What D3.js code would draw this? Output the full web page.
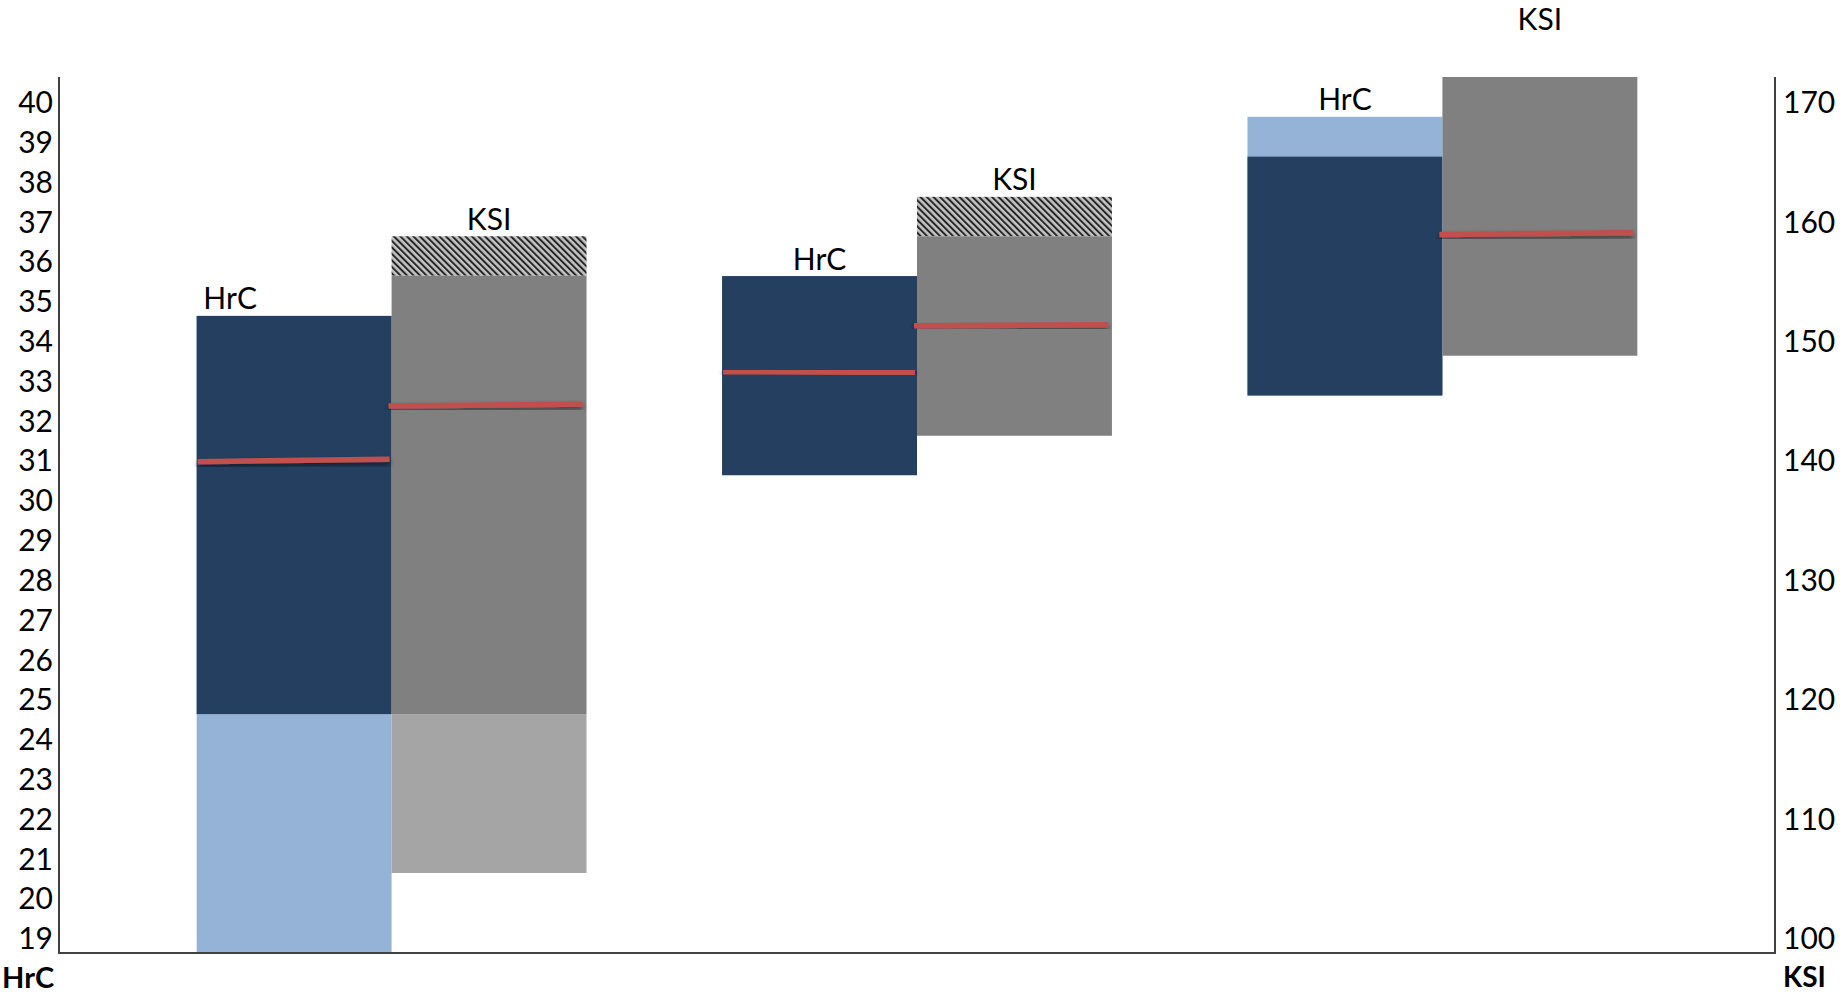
<!DOCTYPE html>
<html>
<head>
<meta charset="utf-8">
<script src="https://cdn.jsdelivr.net/npm/d3@7"></script>
<style>
  html, body { margin: 0; padding: 0; background: #ffffff; overflow: hidden; }
  text { font-family: Lato, "Open Sans", "Liberation Sans", sans-serif; fill: #000; }
</style>
</head>
<body>
<svg id="chart" width="1847" height="995"></svg>
<script>
// ---------- data ----------
const groups = ["1", "2", "3"];
const series = ["HrC", "KSI"];

// HrC (left axis)
const hrcMin      = [25, 31, 33];      // dark blue range
const hrcMax      = [35, 36, 39];
const hrcExtMin   = [19, 31, 33];      // light blue extension
const hrcExtMax   = [35, 36, 40];
const hrcMeanFrom = [31.34, 33.6, 35.5];
const hrcMeanTo   = [31.40, 33.58, 35.5];

// KSI (right axis)
const ksiMin      = [120, 143.3, 150];   // grey range
const ksiMax      = [156.7, 160, 176.7];
const ksiExtMin   = [106.7, 143.3, 150]; // light grey extension
const ksiExtMax   = [160, 163.3, 176.7]; // hatched extension
const ksiMeanFrom = [145.8, 152.5, 160.15];
const ksiMeanTo   = [145.95, 152.6, 160.3];

const hrcTicks = d3.range(19, 41);          // 19 … 40
const ksiTicks = [100, 110, 120, 130, 140, 150, 160, 170];

// ---------- layout ----------
const W = 1847, H = 995;
const plot = { left: 59, right: 1775, top: 77, bottom: 953 };
const hrcLabelShift = [-64, 0, 0];
const labelUp = 15;

const svg = d3.select("#chart");
const defs = svg.append("defs");

defs.append("clipPath").attr("id", "plotClip")
  .append("rect")
  .attr("x", plot.left).attr("y", plot.top)
  .attr("width", plot.right - plot.left).attr("height", plot.bottom - plot.top);

const pat = defs.append("pattern")
  .attr("id", "hatch").attr("patternUnits", "userSpaceOnUse")
  .attr("width", 4.6).attr("height", 4.6)
  .attr("patternTransform", "rotate(-45)");
pat.append("rect").attr("width", 4.6).attr("height", 4.6).attr("fill", "#c4c4c4");
pat.append("rect").attr("width", 2).attr("height", 4.6).attr("fill", "#262626");

const sh = defs.append("filter").attr("id", "shadow")
  .attr("x", "-5%").attr("y", "-200%").attr("width", "110%").attr("height", "500%");
sh.append("feDropShadow").attr("dx", 0).attr("dy", 3).attr("stdDeviation", 2.5)
  .attr("flood-color", "#000").attr("flood-opacity", 0.55);

// ---------- scales ----------
const yH = d3.scaleLinear().domain([19, 41]).range([plot.bottom, plot.top]);
const yK = d3.scaleLinear().domain([100, 100 + 22 * 10 / 3]).range([plot.bottom, plot.top]);

const x0 = d3.scaleBand().domain(groups).range([plot.left, plot.right])
  .paddingInner(0.258).paddingOuter(0.262);
const x1 = d3.scaleBand().domain(series).range([0, x0.bandwidth()]);

// ---------- bars ----------
const g = svg.append("g").attr("clip-path", "url(#plotClip)");

function bar(sel, xs, ys, lo, hi, fill) {
  sel.append("rect")
    .attr("x", xs).attr("width", x1.bandwidth())
    .attr("y", ys(hi)).attr("height", ys(lo) - ys(hi))
    .attr("fill", fill);
}

groups.forEach((grp, i) => {
  const xh = x0(grp) + x1("HrC");
  const xk = x0(grp) + x1("KSI");
  // HrC
  bar(g, xh, yH, hrcExtMin[i], hrcExtMax[i], "#95b3d7");
  bar(g, xh, yH, hrcMin[i], hrcMax[i], "#243f60");
  // KSI
  bar(g, xk, yK, ksiExtMin[i], ksiMin[i], "#a5a5a5");
  bar(g, xk, yK, ksiMax[i], ksiExtMax[i], "url(#hatch)");
  bar(g, xk, yK, ksiMin[i], ksiMax[i], "#808080");
});

// mean lines
const meanG = svg.append("g").attr("clip-path", "url(#plotClip)");
groups.forEach((grp, i) => {
  const xh = x0(grp) + x1("HrC");
  const xk = x0(grp) + x1("KSI");
  meanG.append("line")
    .attr("x1", xh + 1).attr("x2", xh + x1.bandwidth() - 2)
    .attr("y1", yH(hrcMeanFrom[i])).attr("y2", yH(hrcMeanTo[i]))
    .attr("stroke", "#c0504d").attr("stroke-width", 5.5).attr("filter", "url(#shadow)");
  meanG.append("line")
    .attr("x1", xk - 3).attr("x2", xk + x1.bandwidth() - 4)
    .attr("y1", yK(ksiMeanFrom[i])).attr("y2", yK(ksiMeanTo[i]))
    .attr("stroke", "#c0504d").attr("stroke-width", 5.5).attr("filter", "url(#shadow)");
});

// series labels above bars
groups.forEach((grp, i) => {
  const xh = x0(grp) + x1("HrC");
  const xk = x0(grp) + x1("KSI");
  svg.append("text")
    .attr("x", xh + x1.bandwidth() / 2 + hrcLabelShift[i])
    .attr("y", yH(hrcExtMax[i]) - 6.5)
    .attr("text-anchor", "middle").attr("font-size", 30)
    .text("HrC");
  svg.append("text")
    .attr("x", xk + x1.bandwidth() / 2)
    .attr("y", yK(ksiExtMax[i]) - 6.5)
    .attr("text-anchor", "middle").attr("font-size", 30)
    .text("KSI");
});

// ---------- axes ----------
const axL = svg.append("g").attr("transform", `translate(${plot.left},0)`)
  .call(d3.axisLeft(yH).tickValues(hrcTicks).tickSize(0).tickPadding(6).tickFormat(d3.format("d")));
const axR = svg.append("g").attr("transform", `translate(${plot.right},0)`)
  .call(d3.axisRight(yK).tickValues(ksiTicks).tickSize(0).tickPadding(8).tickFormat(d3.format("d")));
[axL, axR].forEach(a => {
  a.select(".domain").remove();
  a.selectAll("text")
    .attr("font-size", 30)
    .attr("fill", "#000")
    .attr("dy", null)
    .attr("y", -labelUp + 10.8);
});

const axisColor = "#404040";
svg.append("line").attr("x1", plot.left).attr("x2", plot.left)
  .attr("y1", plot.top).attr("y2", plot.bottom)
  .attr("stroke", axisColor).attr("stroke-width", 2);
svg.append("line").attr("x1", plot.right).attr("x2", plot.right)
  .attr("y1", plot.top).attr("y2", plot.bottom)
  .attr("stroke", axisColor).attr("stroke-width", 2);
svg.append("line").attr("x1", plot.left - 1).attr("x2", plot.right + 1)
  .attr("y1", plot.bottom).attr("y2", plot.bottom)
  .attr("stroke", axisColor).attr("stroke-width", 2);

// axis titles
svg.append("text").attr("x", 2).attr("y", 988)
  .attr("text-anchor", "start").attr("font-size", 29).attr("font-weight", "bold")
  .text("HrC");
svg.append("text").attr("x", 1783).attr("y", 987)
  .attr("text-anchor", "start").attr("font-size", 28).attr("font-weight", "bold")
  .text("KSI");
</script>
</body>
</html>
